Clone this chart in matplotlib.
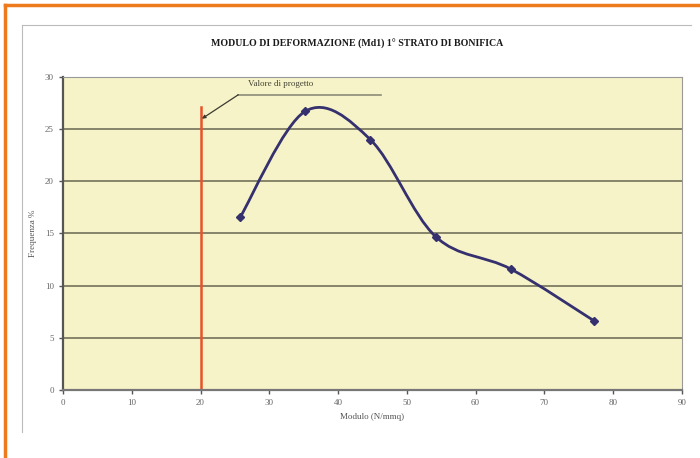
import matplotlib
matplotlib.use("Agg")
import matplotlib.pyplot as plt
from matplotlib.lines import Line2D
from matplotlib.path import Path
from matplotlib.patches import PathPatch
import numpy as np

# data
modulo    = [25.8, 35.2, 44.7, 54.2, 65.1, 77.3]
frequenza = [16.6, 26.7, 24.0, 14.7, 11.6, 6.6]
valore_progetto = 20
valore_top      = 27.1
xticks = [0, 10, 20, 30, 40, 50, 60, 70, 80, 90]
yticks = [0, 5, 10, 15, 20, 25, 30]

title  = "MODULO DI DEFORMAZIONE (Md1) 1° STRATO DI BONIFICA"
xlabel = "Modulo (N/mmq)"
ylabel = "Frequenza %"
note   = "Valore di progetto"

serif = ["Liberation Serif", "DejaVu Serif"]
line_col = "#35306E"
grid_col = "#85846A"


def smooth_path(xs, ys):
    """Excel-style smoothed line: Catmull-Rom as cubic beziers."""
    p = np.column_stack([xs, ys])
    ext = np.vstack([p[0], p, p[-1]])
    verts = [p[0]]
    codes = [Path.MOVETO]
    for i in range(len(p) - 1):
        p0, p1, p2, p3 = ext[i], ext[i + 1], ext[i + 2], ext[i + 3]
        c1 = p1 + (p2 - p0) / 6
        c2 = p2 - (p3 - p1) / 6
        verts += [c1, c2, p2]
        codes += [Path.CURVE4] * 3
    return Path(verts, codes)


fig = plt.figure(figsize=(7, 4.58), dpi=100)
ax = fig.add_axes([0.09, 0.1485, 0.884, 0.6834])
ax.set_facecolor("#F7F3C8")

# frame decoration (orange border + grey inner box)
fig.add_artist(Line2D([0.007, 1.0], [0.989, 0.989], color="#EE7A1E", lw=2.5))
fig.add_artist(Line2D([0.007, 0.007], [0.0, 0.989], color="#EE7A1E", lw=2.5))
fig.add_artist(Line2D([0.031, 0.987], [0.945, 0.945], color="#BBBBBB", lw=0.8))
fig.add_artist(Line2D([0.031, 0.031], [0.057, 0.945], color="#BBBBBB", lw=0.8))

for y in yticks[1:-1]:
    ax.axhline(y, color=grid_col, lw=1.4, zorder=1)

ax.add_patch(PathPatch(smooth_path(modulo, frequenza), fill=False,
                       edgecolor=line_col, lw=2.0, zorder=3))
ax.plot(modulo, frequenza, ls="none", marker="D", ms=4,
        color=line_col, zorder=4)

ax.plot([valore_progetto, valore_progetto], [0, valore_top],
        color="#E8522A", lw=1.8, zorder=2)

# annotation leader
ax.plot([25.5, 46.3], [28.3, 28.3], color="#8C8C78", lw=1.2, zorder=2)
ax.annotate("", xy=(20.2, 26.0), xytext=(25.5, 28.3),
            arrowprops=dict(arrowstyle="-|>", color="#3A3A30", lw=0.9,
                            mutation_scale=5, shrinkA=0, shrinkB=0))
ax.text(26.9, 29.3, note, fontsize=6.5, family=serif, color="#444433",
        va="center")

ax.set_xlim(0, 90)
ax.set_ylim(0, 30)
ax.set_xticks(xticks)
ax.set_yticks(yticks)
ax.tick_params(labelsize=6.5, colors="#555555", length=3, width=1)
for lab in ax.get_xticklabels() + ax.get_yticklabels():
    lab.set_family(serif)
    lab.set_color("#666666")

ax.spines["left"].set_color("#555555")
ax.spines["left"].set_linewidth(1.6)
ax.spines["bottom"].set_color("#777777")
ax.spines["bottom"].set_linewidth(1.6)
ax.spines["top"].set_color("#999999")
ax.spines["right"].set_color("#999999")

ax.set_xlabel(xlabel, fontsize=6.5, family=serif, color="#555555", labelpad=4)
ax.set_ylabel(ylabel, fontsize=6.5, family=serif, color="#555555", labelpad=6)

fig.text(0.51, 0.905, title, ha="center", va="center", fontsize=7.1,
         fontweight="bold", family=serif, color="#1a1a1a")

fig.savefig("out.png", dpi=100)
plt.close(fig)
